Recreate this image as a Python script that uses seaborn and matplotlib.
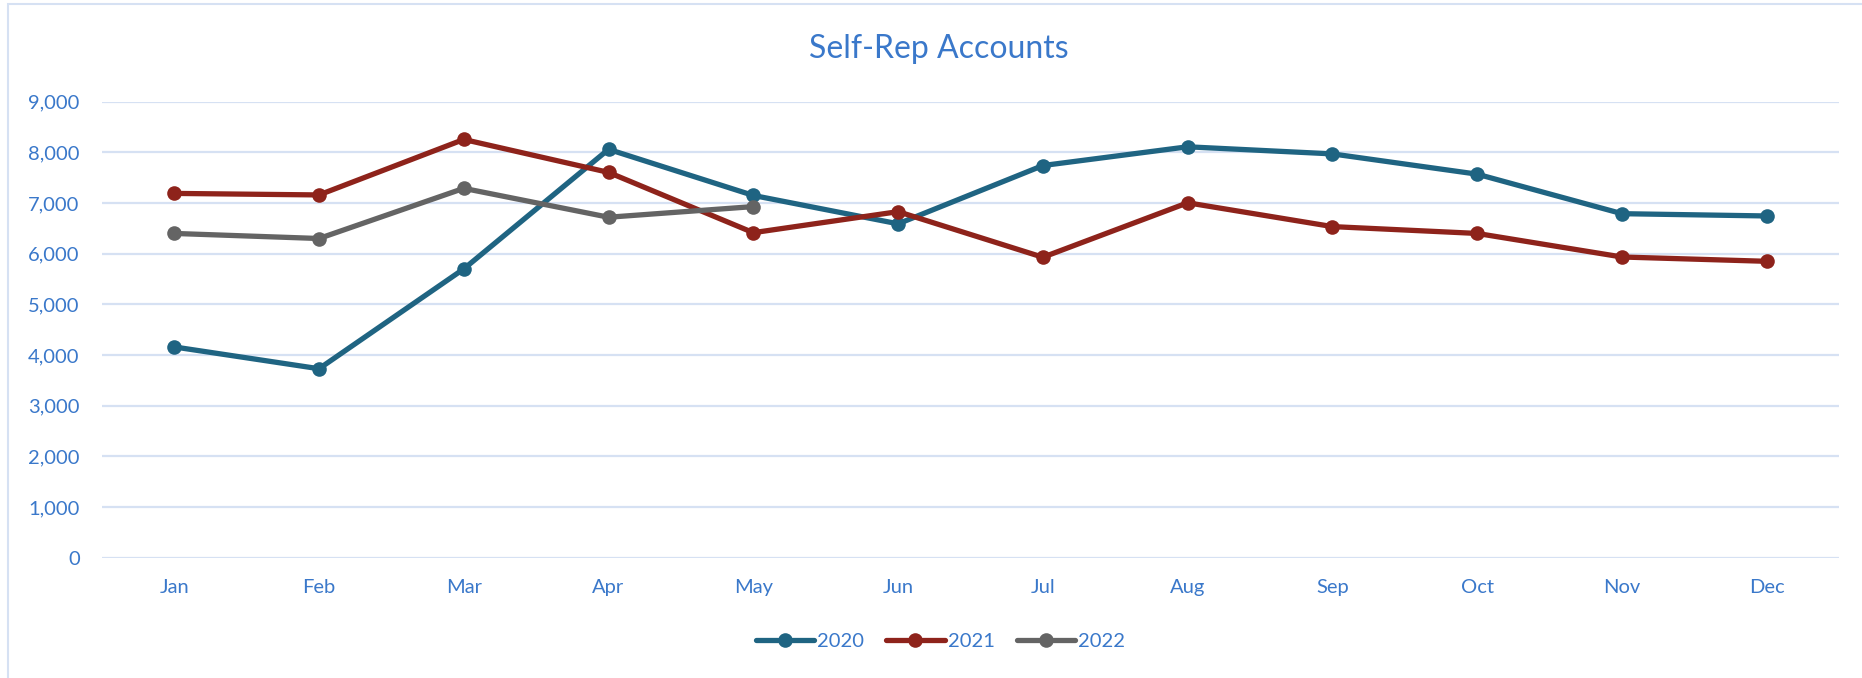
import pandas as pd
import numpy as np
import matplotlib.pyplot as plt
import seaborn as sns
from matplotlib.patches import Rectangle

# Chart values
months = ['Jan', 'Feb', 'Mar', 'Apr', 'May', 'Jun', 'Jul', 'Aug', 'Sep', 'Oct', 'Nov', 'Dec']
accounts_2020 = [4160, 3730, 5700, 8060, 7150, 6590, 7740, 8110, 7970, 7570, 6790, 6745]
accounts_2021 = [7190, 7160, 8255, 7605, 6415, 6830, 5930, 7005, 6535, 6400, 5935, 5850]
accounts_2022 = [6400, 6300, 7290, 6720, 6930]
years = ['2020', '2021', '2022']
colors = ['#1F6482', '#8E231B', '#646464']

text_blue = '#3A78CA'
grid_blue = '#D6E1F3'

# Long-form table for seaborn
rows = []
for yr, vals in zip(years, [accounts_2020, accounts_2021, accounts_2022]):
    for m, v in zip(months, vals):
        rows.append({'Month': m, 'Accounts': v, 'Year': yr})
df = pd.DataFrame(rows)

sns.set_style("white")
plt.rcParams['font.family'] = ['Lato', 'DejaVu Sans']

fig = plt.figure(figsize=(18.62, 6.78), dpi=100)
ax = fig.add_axes([0.0547, 0.1774, 0.933, 0.6726])

sns.lineplot(data=df, x='Month', y='Accounts', hue='Year', palette=colors,
             marker='o', markersize=10.5, linewidth=3.8, markeredgewidth=0,
             sort=False, ax=ax)

ax.set_xlim(-0.5, 11.5)
ax.set_ylim(0, 9000)
ax.set_yticks(np.arange(0, 9001, 1000))
ax.set_yticklabels([f'{v:,}' for v in range(0, 9001, 1000)])
ax.grid(axis='y', color=grid_blue, linewidth=1.6)
ax.set_axisbelow(True)
for s in ax.spines.values():
    s.set_visible(False)
ax.tick_params(axis='both', length=0, labelsize=14.5, labelcolor=text_blue)
ax.tick_params(axis='y', pad=16)
ax.tick_params(axis='x', pad=15)
ax.set_xlabel('')
ax.set_ylabel('')

fig.text(0.504, 0.915, 'Self-Rep Accounts', ha='center', va='baseline',
         fontsize=23, color=text_blue)

leg = ax.legend(loc='center', bbox_to_anchor=(0.505, 0.0535),
                bbox_transform=fig.transFigure, ncol=3, frameon=False,
                fontsize=14.5, handlelength=2.9, handletextpad=0.15,
                columnspacing=1.1)
for t in leg.get_texts():
    t.set_color(text_blue)

# light chart border like the spreadsheet frame
fig.patches.append(Rectangle((0.0045, -0.01), 1.1, 1.004, transform=fig.transFigure,
                             fill=False, edgecolor=grid_blue, linewidth=1.5))

fig.savefig('out.png', dpi=100)
